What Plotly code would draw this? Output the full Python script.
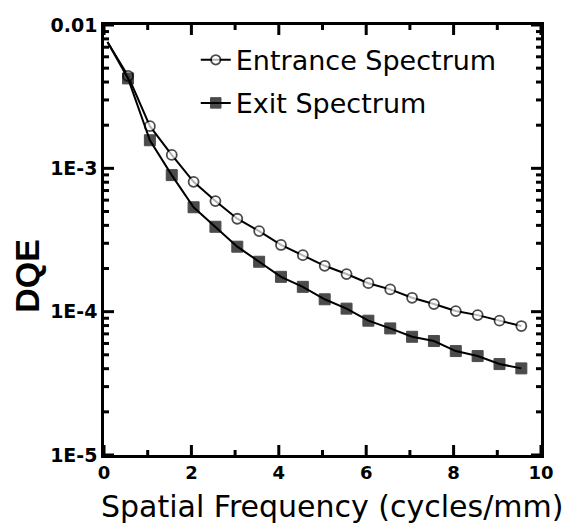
import plotly.graph_objects as go

freq = [0.08, 0.55, 1.05, 1.55, 2.05, 2.55, 3.05, 3.55, 4.05, 4.55,
        5.05, 5.55, 6.05, 6.55, 7.05, 7.55, 8.05, 8.55, 9.05, 9.55]
entrance = [0.0076, 0.00441, 0.00197, 0.00124, 0.000805, 0.000591, 0.000445,
            0.000365, 0.000292, 0.000248, 0.000209, 0.000183, 0.000158,
            0.000143, 0.000125, 0.000113, 0.000101, 0.0000946, 0.0000865,
            0.0000794]
exit_ = [0.0076, 0.00424, 0.00157, 0.000897, 0.000535, 0.000391, 0.000284,
         0.000223, 0.000175, 0.000149, 0.000122, 0.000105, 0.0000865,
         0.0000764, 0.0000668, 0.0000624, 0.0000531, 0.0000490, 0.0000431,
         0.0000402]
y_tickvals = [1e-5, 1e-4, 1e-3, 1e-2]
y_ticktext = ["1E-5", "1E-4", "1E-3", "0.01"]
x_tickvals = [0, 2, 4, 6, 8, 10]
x_minor = [1, 3, 5, 7, 9]
y_minor = [k * 10 ** e for e in (-5, -4, -3) for k in range(2, 10)]

FONT = "DejaVu Sans, Liberation Sans, sans-serif"
ARIAL = "Liberation Sans, Arial, sans-serif"
msizes_c = [0] + [10] * (len(freq) - 1)
msizes_s = [0] + [11] * (len(freq) - 1)

fig = go.Figure()
fig.add_trace(go.Scatter(
    x=freq, y=entrance, mode="lines+markers", name="Entrance Spectrum",
    legendgroup="a",
    line=dict(color="black", width=2),
    marker=dict(symbol="circle", size=msizes_c, color="white",
                line=dict(color="black", width=1.8)),
))
fig.add_trace(go.Scatter(
    x=freq, y=exit_, mode="lines+markers", name="Exit Spectrum",
    legendgroup="b",
    line=dict(color="black", width=2),
    marker=dict(symbol="square", size=msizes_s, color="black",
                line=dict(color="black", width=1)),
))

# tick marks drawn as shapes (inside ticks on all four sides)
tick_line = dict(color="black", width=3)
for vals, ln in ((x_tickvals, 10), (x_minor, 5)):
    for v in vals:
        for anchor, (a, b) in ((0, (0, ln)), (1, (-ln, 0))):
            fig.add_shape(type="line", xref="x", yref="paper",
                          ysizemode="pixel", yanchor=anchor,
                          x0=v, x1=v, y0=a, y1=b, line=tick_line,
                          layer="above")
for vals, ln in ((y_tickvals, 10), (y_minor, 5)):
    for v in vals:
        for anchor, (a, b) in ((0, (0, ln)), (1, (-ln, 0))):
            fig.add_shape(type="line", xref="paper", yref="y",
                          xsizemode="pixel", xanchor=anchor,
                          x0=a, x1=b, y0=v, y1=v, line=tick_line,
                          layer="above")

fig.update_layout(
    width=566, height=527,
    margin=dict(l=104, r=21, t=25, b=72),
    paper_bgcolor="white", plot_bgcolor="white",
    font=dict(family=FONT, color="black"),
    showlegend=True,
    legend=dict(x=0.21, y=0.975, xanchor="left", yanchor="top",
                bgcolor="rgba(0,0,0,0)", borderwidth=0,
                font=dict(size=27, family=FONT, color="black"),
                itemwidth=30, tracegroupgap=5),
    xaxis=dict(range=[0, 10], tickmode="array", tickvals=x_tickvals,
               ticks="", showline=True, linecolor="black", linewidth=2.5,
               mirror=True, showgrid=False, zeroline=False,
               tickfont=dict(size=18, family="DejaVu Sans", color="black",
                             weight="bold")),
    yaxis=dict(type="log", range=[-5, -2], tickmode="array",
               tickvals=y_tickvals, ticktext=y_ticktext, ticks="",
               showline=True, linecolor="black", linewidth=2.5, mirror=True,
               showgrid=False, zeroline=False,
               tickfont=dict(size=19, family="DejaVu Sans", color="black",
                             weight="bold")),
    annotations=[
        dict(text="Spatial Frequency (cycles/mm)", xref="paper", yref="paper",
             x=0.522, y=-0.119, xanchor="center", yanchor="middle",
             showarrow=False, font=dict(size=30, family=FONT, color="black")),
        dict(text="<b>DQE</b>", xref="paper", yref="paper",
             x=-0.177, y=0.416, xanchor="center", yanchor="middle",
             textangle=-90, showarrow=False,
             font=dict(size=34, family=ARIAL, color="black")),
    ],
)

fig.write_html("out.html")
